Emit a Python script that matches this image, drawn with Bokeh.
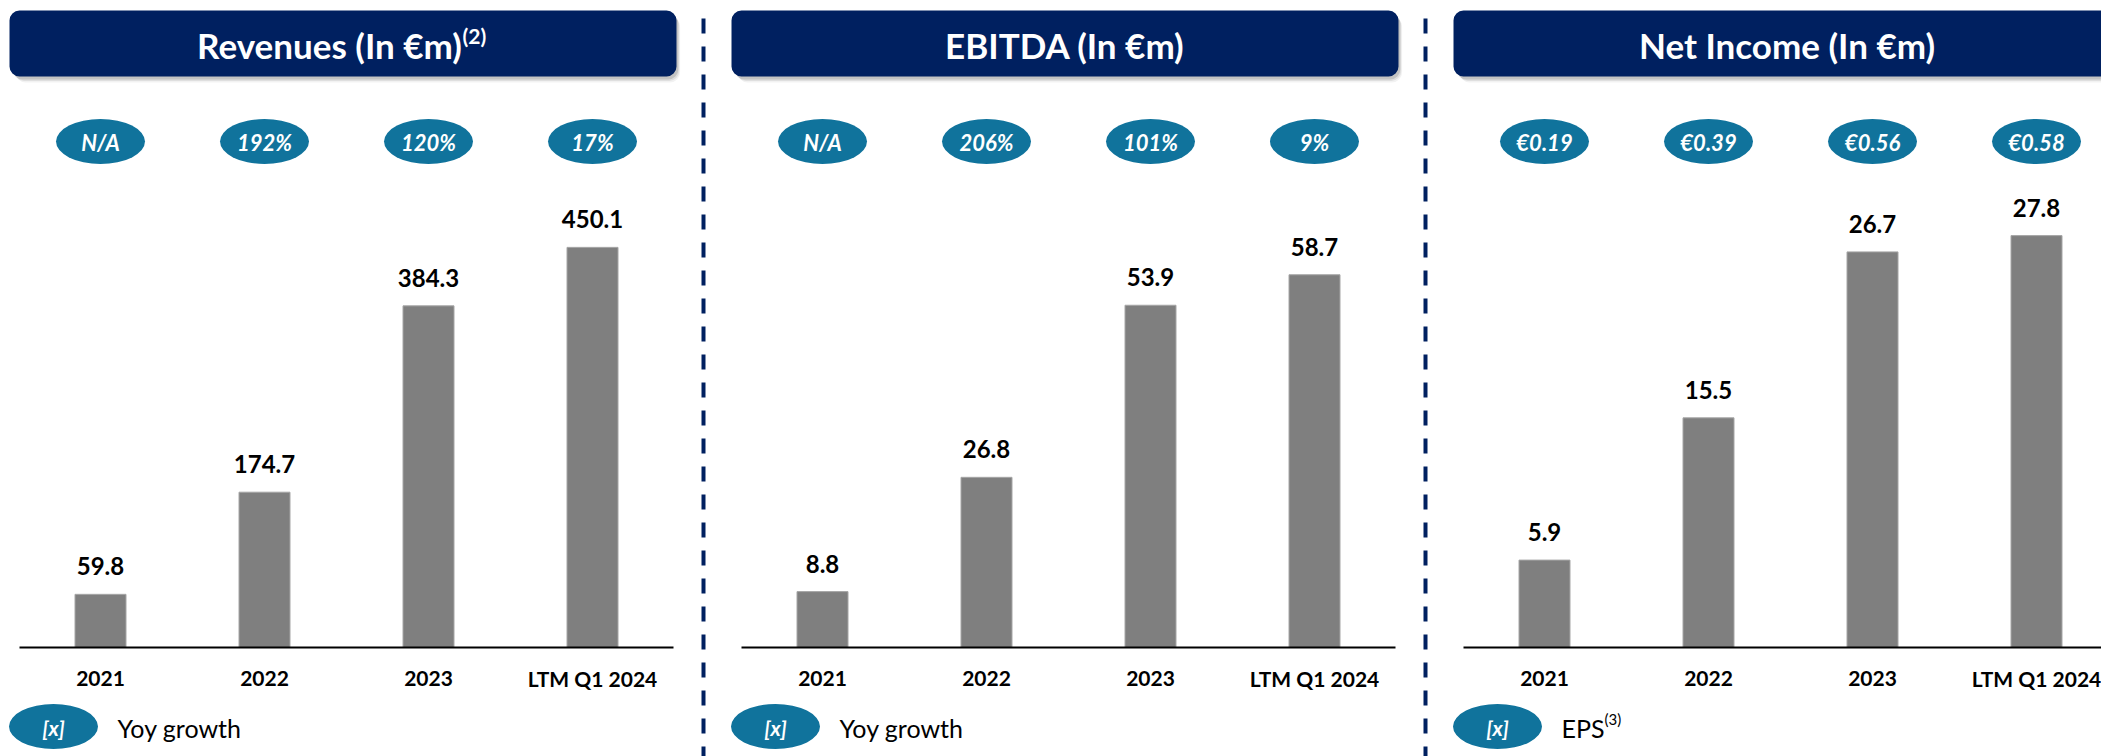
from bokeh.plotting import figure
from bokeh.layouts import row
from bokeh.models import Range1d, ColumnDataSource
from bokeh.core.properties import value
from bokeh.embed import file_html
from bokeh.resources import INLINE

# ---------------- data ----------------
categories = ["2021", "2022", "2023", "LTM Q1 2024"]
revenues = [59.8, 174.7, 384.3, 450.1]
ebitda = [8.8, 26.8, 53.9, 58.7]
net_income = [5.9, 15.5, 26.7, 27.8]
revenue_growth = ["N/A", "192%", "120%", "17%"]
ebitda_growth = ["N/A", "206%", "101%", "9%"]
eps = ["€0.19", "€0.39", "€0.56", "€0.58"]
titles = ["Revenues (In €m)", "EBITDA (In €m)", "Net Income (In €m)"]
title_notes = ["(2)", "", ""]
legend_labels = ["Yoy growth", "Yoy growth", "EPS"]
legend_notes = ["", "", "(3)"]
legend_marker = "[x]"
axis_max = [500, 70, 30]

series = [revenues, ebitda, net_income]
badges = [revenue_growth, ebitda_growth, eps]

# ---------------- style / layout ----------------
NAVY = "#002060"
TEAL = "#10739C"
GREY = "#7F7F7F"
FONT = value("Lato")

H = 756
PANEL_W = [722, 722, 657]
SLOT = 164.0      # px per category
X0 = 100.0        # px of first category centre inside a panel
BASE = 647.0      # px from top of the zero line
PLOT_H = 444.5    # px of the value axis (0 .. axis max)


def make_panel(i):
    W = PANEL_W[i]
    ymax = axis_max[i]

    def X(px):
        return (px - X0) / SLOT

    def Y(py):
        return (BASE - py) / PLOT_H * ymax

    p = figure(width=W, height=H,
               x_range=Range1d(X(0), X(W)), y_range=Range1d(Y(H), Y(0)),
               output_backend="svg", toolbar_location=None,
               x_axis_location=None, y_axis_location=None, min_border=0)
    p.outline_line_color = None
    p.xgrid.visible = False
    p.ygrid.visible = False
    p.background_fill_color = "white"
    p.border_fill_color = "white"

    vals = series[i]
    src = ColumnDataSource(dict(
        idx=list(range(len(categories))),
        cat=categories,
        val=vals,
        lab=[f"{v:.1f}" for v in vals],
        badge=badges[i],
    ))

    # header box with soft shadow
    for d, a in [(6, 0.05), (4.5, 0.08), (3, 0.12)]:
        p.quad(left=[X(9 + d)], right=[X(676 + d * 0.6)], top=[Y(10 + d)], bottom=[Y(76 + d)],
               border_radius=10, fill_color="black", fill_alpha=a, line_color=None)
    p.quad(left=[X(9)], right=[X(676)], top=[Y(10)], bottom=[Y(76)],
           border_radius=10, fill_color=NAVY, line_color=None)

    cx = 342.5
    note = title_notes[i]
    if note:
        main_w, note_w = 262.0, 27.0
        mx = cx - note_w / 2
        p.text(x=[X(mx)], y=[Y(44)], text=[titles[i]], text_font=FONT,
               text_font_size="35px", text_font_style="bold", text_color="white",
               text_align="center", text_baseline="middle")
        p.text(x=[X(mx + main_w / 2 + 2)], y=[Y(35)], text=[note], text_font=FONT,
               text_font_size="21px", text_font_style="bold", text_color="white",
               text_align="left", text_baseline="middle")
    else:
        p.text(x=[X(cx)], y=[Y(44)], text=[titles[i]], text_font=FONT,
               text_font_size="35px", text_font_style="bold", text_color="white",
               text_align="center", text_baseline="middle")

    # badges row
    p.ellipse(x="idx", y=Y(141), width=89, height=45, width_units="screen",
              height_units="screen", fill_color=TEAL, line_color=None, source=src)
    p.text(x="idx", y=Y(142), text="badge", source=src, text_font=FONT,
           text_font_size="22px", text_font_style="bold italic", text_color="white",
           text_align="center", text_baseline="middle")

    # bars
    p.vbar(x="idx", top="val", bottom=0, width=51 / SLOT, source=src,
           fill_color=GREY, line_color="#A6A6A6", line_width=1)
    p.text(x="idx", y="val", text="lab", source=src, y_offset=-28, text_font=FONT,
           text_font_size="24px", text_font_style="bold", text_color="black",
           text_align="center", text_baseline="middle")

    # zero line and category labels
    p.segment(x0=[X(19)], x1=[X(673)], y0=[0], y1=[0], line_color="black", line_width=2)
    p.text(x="idx", y=Y(678), text="cat", source=src, text_font=FONT,
           text_font_size="21px", text_font_style="bold", text_color="black",
           text_align="center", text_baseline="middle")

    # legend
    p.ellipse(x=[X(53)], y=[Y(726)], width=89, height=45, width_units="screen",
              height_units="screen", fill_color=TEAL, line_color=None)
    p.text(x=[X(53)], y=[Y(727)], text=[legend_marker], text_font=FONT,
           text_font_size="21px", text_font_style="bold italic", text_color="white",
           text_align="center", text_baseline="middle")
    p.text(x=[X(117)], y=[Y(727)], text=[legend_labels[i]], text_font=FONT,
           text_font_size="25px", text_color="black",
           text_align="left", text_baseline="middle")
    if legend_notes[i]:
        p.text(x=[X(160)], y=[Y(718)], text=[legend_notes[i]], text_font=FONT,
               text_font_size="15px", text_color="black",
               text_align="left", text_baseline="middle")

    # dashed divider on the right side of the panel
    if i < 2:
        p.segment(x0=[X(703)], x1=[X(703)], y0=[Y(18)], y1=[Y(H + 10)],
                  line_color=NAVY, line_width=4, line_dash="15 13")
    return p


panels = [make_panel(i) for i in range(3)]
layout = row(*panels, spacing=0)

open("out.html", "w").write(file_html(layout, INLINE))
